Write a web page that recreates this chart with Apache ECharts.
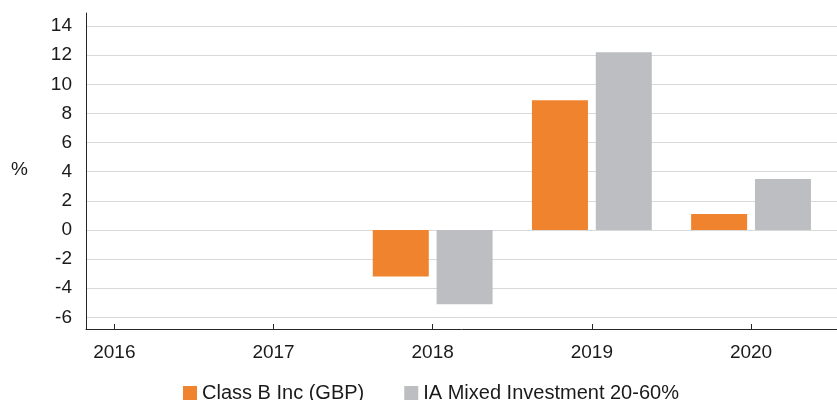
<!DOCTYPE html>
<html>
<head>
<meta charset="utf-8">
<script src="https://cdn.jsdelivr.net/npm/echarts@6/dist/echarts.min.js"></script>
<style>
  html, body { margin: 0; padding: 0; background: #fff; }
  #chart { width: 837px; height: 400px; }
</style>
</head>
<body>
<div id="chart"></div>
<script>
const years = [2016, 2017, 2018, 2019, 2020];
const classB = [null, null, -3.2, 8.9, 1.1];
const sector = [null, null, -5.1, 12.2, 3.5];
const yTicks = [-6, -4, -2, 0, 2, 4, 6, 8, 10, 12, 14];
const seriesNames = ['Class B Inc (GBP)', 'IA Mixed Investment 20-60%'];

function pairs(vals) {
  const out = [];
  years.forEach((y, i) => { if (vals[i] !== null) out.push([y, vals[i]]); });
  return out;
}

const font = 'Liberation Sans, Arial, sans-serif';
const chart = echarts.init(document.getElementById('chart'), null, { renderer: 'canvas' });
chart.setOption({
  animation: false,
  backgroundColor: '#ffffff',
  grid: { left: 86, right: 0, top: 13, bottom: 71, containLabel: false },
  legend: {
    left: 178, top: 378,
    itemWidth: 14, itemHeight: 14, itemGap: 40,
    icon: 'rect',
    textStyle: { fontFamily: font, fontSize: 20, color: '#1a1a1a' },
    data: seriesNames
  },
  graphic: [{
    type: 'text', left: 11, top: 160,
    style: { text: '%', font: '19px ' + font, fill: '#1a1a1a' }
  }],
  xAxis: {
    type: 'value', min: 2015.822, max: 2020.54,
    axisLine: { onZero: false, lineStyle: { color: '#262626', width: 1 } },
    axisTick: { show: true, inside: true, length: 5, customValues: years, lineStyle: { color: '#262626' } },
    axisLabel: { customValues: years, margin: 14, fontFamily: font, fontSize: 19, color: '#1a1a1a', formatter: v => String(v) },
    splitLine: { show: false }
  },
  yAxis: {
    type: 'value', min: -6.8, max: 14.9,
    axisLine: { show: true, onZero: false, lineStyle: { color: '#262626', width: 1 } },
    axisTick: { show: false, customValues: yTicks },
    axisLabel: { customValues: yTicks, margin: 14, fontFamily: font, fontSize: 19, color: '#1a1a1a' },
    splitLine: { show: true, lineStyle: { color: '#d9d9d9', width: 1 } }
  },
  series: [
    { name: seriesNames[0], type: 'bar', data: pairs(classB), barWidth: 56, barGap: '14%', itemStyle: { color: '#F0832E' } },
    { name: seriesNames[1], type: 'bar', data: pairs(sector), barWidth: 56, barGap: '14%', itemStyle: { color: '#BDBEC1' } }
  ]
});
</script>
</body>
</html>
